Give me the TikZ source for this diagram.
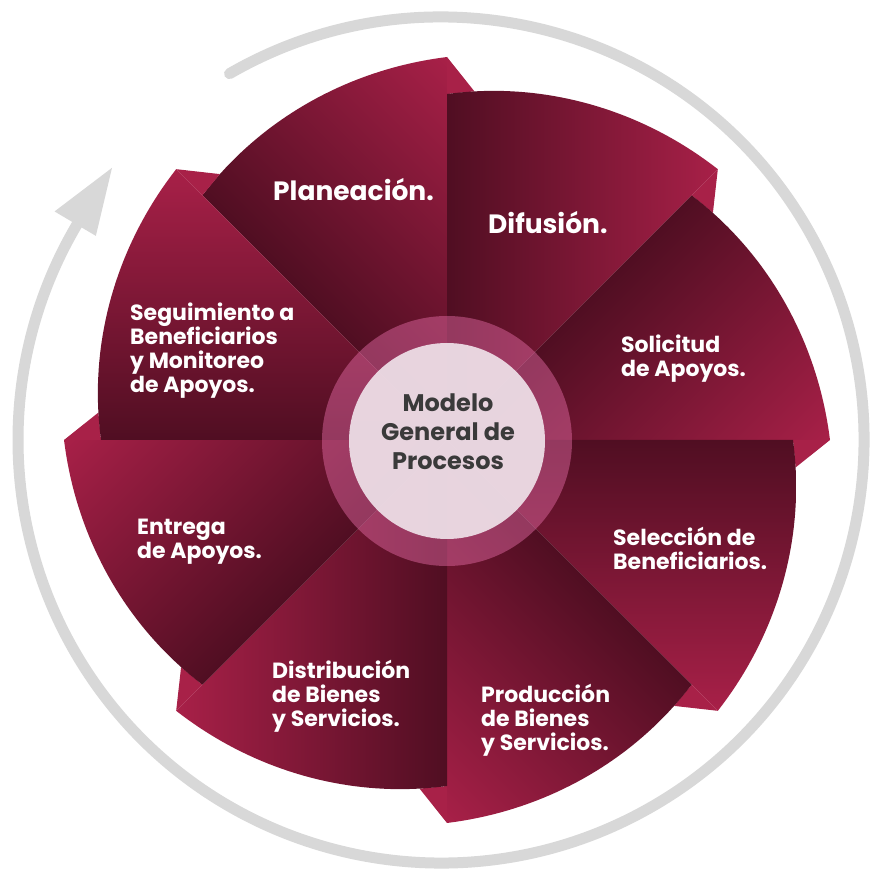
\documentclass[tikz,border=0pt]{standalone}
\usepackage{fontspec}
\setmainfont{Poppins}
\definecolor{pdark}{RGB}{80,14,34}
\definecolor{pmid}{RGB}{132,24,58}
\definecolor{pbright}{RGB}{168,32,72}
\definecolor{pflap}{RGB}{168,33,72}
\definecolor{ringgray}{RGB}{216,216,216}
\definecolor{ringpink}{RGB}{232,110,170}
\definecolor{centerfill}{RGB}{237,222,230}
\definecolor{centertext}{RGB}{58,58,58}
\begin{document}
\begin{tikzpicture}[x=1pt,y=1pt,
  lbl/.style={text=white, font=\fontsize{22}{24}\selectfont\bfseries, align=left, anchor=west, inner sep=0pt},
  biglbl/.style={lbl, font=\fontsize{26.5}{28}\selectfont\bfseries},
  petal/.style={left color=pdark, middle color=pmid, right color=pbright},
  flapshape/.style={fill=pflap},
  ringline/.style={draw=ringgray, line width=11pt},
  ctrtext/.style={font=\fontsize{24}{29}\selectfont\bfseries, text=centertext, align=center, inner sep=0pt}
]
\useasboundingbox (0,0) rectangle (872,876);
\fill[white] (0,0) rectangle (872,876);

% grey cycle ring with arrow
\coordinate (rc) at (441,436);
\draw[ringline, line cap=round] ([shift={(120:423)}]rc) arc[start angle=120, end angle=-212, radius=423];
\fill[ringgray] ([shift={(140.4:427)}]rc) -- ([shift={(149.4:449)}]rc) -- ([shift={(149.4:401)}]rc) -- cycle;

% petals
\foreach \rot in {45,0,-45,-90,-135,-180,-225,-270} {
  \begin{scope}[transform canvas={shift={(447,436)},rotate=\rot}]
    \path[petal] (0,0) -- (90:346) -- plot[domain=90:45,samples=40] (\x:{346+37*(90-\x)/45}) -- cycle;
    \path[flapshape] (45:383) -- (45:346) -- (40.5:349.7) -- cycle;
  \end{scope}
}

% center
\coordinate (cc) at (447,435);
\fill[ringpink, opacity=0.45] (cc) circle[radius=125];
\fill[centerfill, opacity=0.94] (cc) circle[radius=98];
\node[ctrtext] (ctr) at (448,444) {Modelo\\General de\\Procesos};

% labels
\node[biglbl] (plan) at (273,686) {Planeación.};
\node[biglbl] (difu) at (488,653) {Difusión.};
\node[lbl] (soli) at (621,517) {Solicitud\\de Apoyos.};
\node[lbl] (segu) at (130,525) {Seguimiento a\\Beneficiarios\\y Monitoreo\\de Apoyos.};
\node[lbl] (entr) at (137,334) {Entrega\\de Apoyos.};
\node[lbl] (sele) at (613,328) {Selección de\\Beneficiarios.};
\node[lbl] (dist) at (272,180) {Distribución\\de Bienes\\y Servicios.};
\node[lbl] (prod) at (481,156) {Producción\\de Bienes\\y Servicios.};
\end{tikzpicture}
\end{document}
